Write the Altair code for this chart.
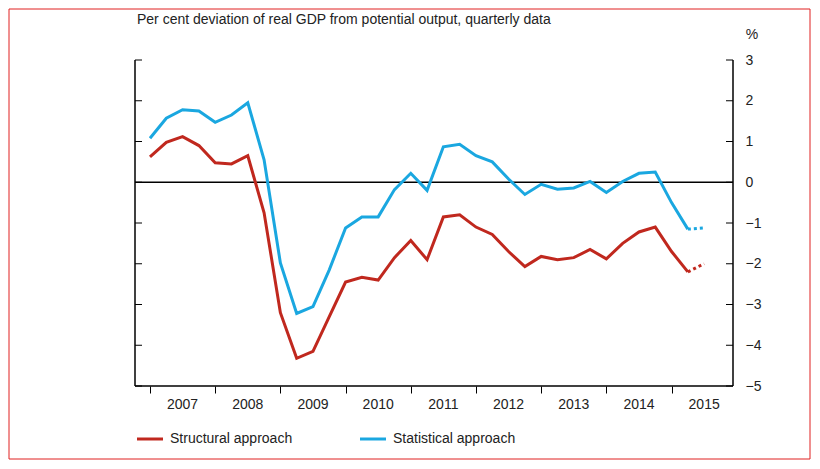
import altair as alt
import pandas as pd

years = ["2007", "2008", "2009", "2010", "2011", "2012", "2013", "2014", "2015"]
structural = [0.62, 0.98, 1.12, 0.9, 0.48, 0.45, 0.65, -0.75, -3.2, -4.32, -4.15, -3.3,
              -2.45, -2.33, -2.4, -1.85, -1.43, -1.9, -0.85, -0.8, -1.1, -1.28, -1.7, -2.07,
              -1.82, -1.9, -1.85, -1.65, -1.88, -1.5, -1.22, -1.1, -1.7, -2.2, -2.0]
statistical = [1.08, 1.57, 1.78, 1.75, 1.47, 1.65, 1.95, 0.55, -1.98, -3.22, -3.05, -2.15,
               -1.12, -0.85, -0.85, -0.18, 0.22, -0.2, 0.87, 0.93, 0.65, 0.5, 0.08, -0.3,
               -0.05, -0.17, -0.14, 0.02, -0.25, 0.02, 0.22, 0.25, -0.5, -1.15, -1.12]
n_solid = 34  # last quarter is a projection (dotted)

RED = "#C0281E"
BLUE = "#1AA7E0"
W, H = 598, 326

rows = []
for name, vals in [("Structural approach", structural), ("Statistical approach", statistical)]:
    for i, v in enumerate(vals):
        if i < n_solid:
            rows.append({"q": i, "v": v, "series": name, "seg": "solid"})
        if i >= n_solid - 1:
            rows.append({"q": i, "v": v, "series": name, "seg": "dotted"})
df = pd.DataFrame(rows)

xs = alt.Scale(domain=[-0.92, 35.77], nice=False, zero=False)
ys = alt.Scale(domain=[-5, 3], nice=False)
cs = alt.Scale(domain=["Structural approach", "Statistical approach"], range=[RED, BLUE])

base = alt.Chart(df)
solid = base.transform_filter("datum.seg == 'solid'").mark_line(strokeWidth=3).encode(
    x=alt.X("q:Q", scale=xs, axis=alt.Axis(values=list(range(0, 33, 4)), labels=False,
                                         title=None, grid=False, domain=False,
                                         tickColor="black", tickSize=7)),
    y=alt.Y("v:Q", scale=ys, axis=alt.Axis(orient="right", values=list(range(-5, 4)),
                                         title=None, grid=False, domain=False, ticks=False,
                                         labelPadding=12, labelFontSize=14,
                                         labelColor="#222")),
    color=alt.Color("series:N", scale=cs, legend=None),
    detail="series:N",
)
dotted = base.transform_filter("datum.seg == 'dotted'").mark_line(
    strokeWidth=3, strokeDash=[3, 3]).encode(
    x=alt.X("q:Q", scale=xs), y=alt.Y("v:Q", scale=ys),
    color=alt.Color("series:N", scale=cs, legend=None), detail="series:N")

zero = alt.Chart(pd.DataFrame({"v": [0]})).mark_rule(color="black", strokeWidth=1.5).encode(
    y=alt.Y("v:Q", scale=ys))

frame_df = pd.DataFrame({"v": list(range(-5, 4))})
lticks = alt.Chart(frame_df).mark_rule(color="black").encode(
    y=alt.Y("v:Q", scale=ys), x=alt.value(0), x2=alt.value(7))
rticks = alt.Chart(frame_df).mark_rule(color="black").encode(
    y=alt.Y("v:Q", scale=ys), x=alt.value(W - 7), x2=alt.value(W))
frame = alt.Chart(pd.DataFrame({"a": [0]})).mark_rule(color="black", strokeWidth=1.5)
left = frame.encode(x=alt.value(0), y=alt.value(0), y2=alt.value(H))
right = frame.encode(x=alt.value(W), y=alt.value(0), y2=alt.value(H))
bottom = frame.encode(x=alt.value(0), x2=alt.value(W), y=alt.value(H))

ylab = pd.DataFrame({"q": [2 + 4 * k for k in range(len(years))], "year": years})
yeartext = alt.Chart(ylab).mark_text(fontSize=14, color="#222", baseline="top").encode(
    x=alt.X("q:Q", scale=xs), y=alt.value(H + 12), text="year:N")

font = "Liberation Sans"
title = alt.Chart(pd.DataFrame({"t": ["Per cent deviation of real GDP from potential output, quarterly data"]})).mark_text(
    align="left", fontSize=14, color="#222", font=font).encode(
    x=alt.value(2), y=alt.value(-40), text="t:N")
pct = alt.Chart(pd.DataFrame({"t": ["%"]})).mark_text(fontSize=14, color="#222", font=font).encode(
    x=alt.value(617), y=alt.value(-25), text="t:N")

one = pd.DataFrame({"a": [0]})
legend_layers = []
for name, colour, x0 in [("Structural approach", RED, 2), ("Statistical approach", BLUE, 225)]:
    legend_layers.append(alt.Chart(one).mark_rule(strokeWidth=3, color=colour).encode(
        x=alt.value(x0), x2=alt.value(x0 + 26), y=alt.value(H + 53)))
    legend_layers.append(alt.Chart(one).mark_text(
        align="left", fontSize=14, color="#222", font=font, text=name).encode(
        x=alt.value(x0 + 33), y=alt.value(H + 53)))

border = alt.Chart(one).mark_rect(
    fill=None, stroke="#E02020", strokeWidth=1).encode(
    x=alt.value(-126), x2=alt.value(W + 77), y=alt.value(-51), y2=alt.value(H + 73))

chart = alt.layer(zero, solid, dotted, lticks, rticks, left, right, bottom, yeartext,
                  title, pct, *legend_layers, border).properties(
    width=W, height=H, autosize="none",
    padding={"left": 127, "top": 52, "right": 79, "bottom": 75},
).configure_view(stroke=None).configure_axis(labelFont=font).configure_text(font=font)

chart.save("out.html", embed_options={"renderer": "svg", "actions": False})
